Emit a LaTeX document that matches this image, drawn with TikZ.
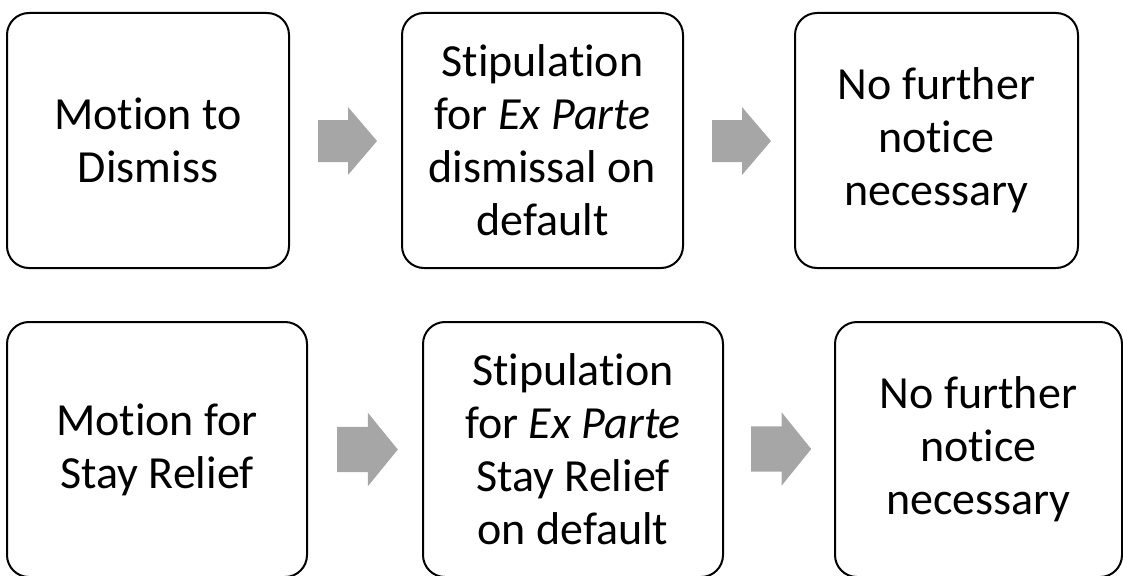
\documentclass[tikz,border=0pt]{standalone}
\usepackage{fontspec}
\setmainfont{Carlito}[Ligatures=CommonOff]
\definecolor{arrowgray}{HTML}{A6A6A6}
\begin{document}
\begin{tikzpicture}[x=1pt,y=-1pt,
  stepbox/.style={draw=black, line width=2pt, rounded corners=22pt,
    fill=white, align=center, inner sep=0pt,
    font=\fontsize{46}{53}\selectfont},
  topbox/.style={stepbox, minimum height=255pt},
  lowbox/.style={stepbox, minimum height=255pt},
  blockarrow/.pic={
    \fill[arrowgray] (0,-21) -- (30,-21) -- (30,-34) -- (59,0)
      -- (30,34) -- (30,21) -- (0,21) -- cycle;
  }]
\useasboundingbox (0,0) rectangle (1123,575);

% first row: dismissal
\node[topbox, minimum width=282pt] (dismiss) at (148,140.5)
  {Motion to\\Dismiss};
\node[topbox, minimum width=281pt] (stipdis) at (542.5,140.5)
  {Stipulation\\for \textit{Ex Parte}\\dismissal on\\default};
\node[topbox, minimum width=283pt] (notice1) at (936.5,140.5)
  {No further\\notice\\necessary};

\pic at (318,141) {blockarrow};
\pic at (712,141) {blockarrow};

% second row: stay relief
\node[lowbox, minimum width=300pt] (stay) at (157,449.5)
  {Motion for\\Stay Relief};
\node[lowbox, minimum width=300pt] (stipstay) at (573,449.5)
  {Stipulation\\for \textit{Ex Parte}\\Stay Relief\\on default};
\node[lowbox, minimum width=287pt] (notice2) at (978.5,449.5)
  {No further\\notice\\necessary};

\pic[xscale=1.03, yscale=1.08] at (337,449.5) {blockarrow};
\pic[xscale=1.02, yscale=1.08] at (751,449) {blockarrow};
\end{tikzpicture}
\end{document}
